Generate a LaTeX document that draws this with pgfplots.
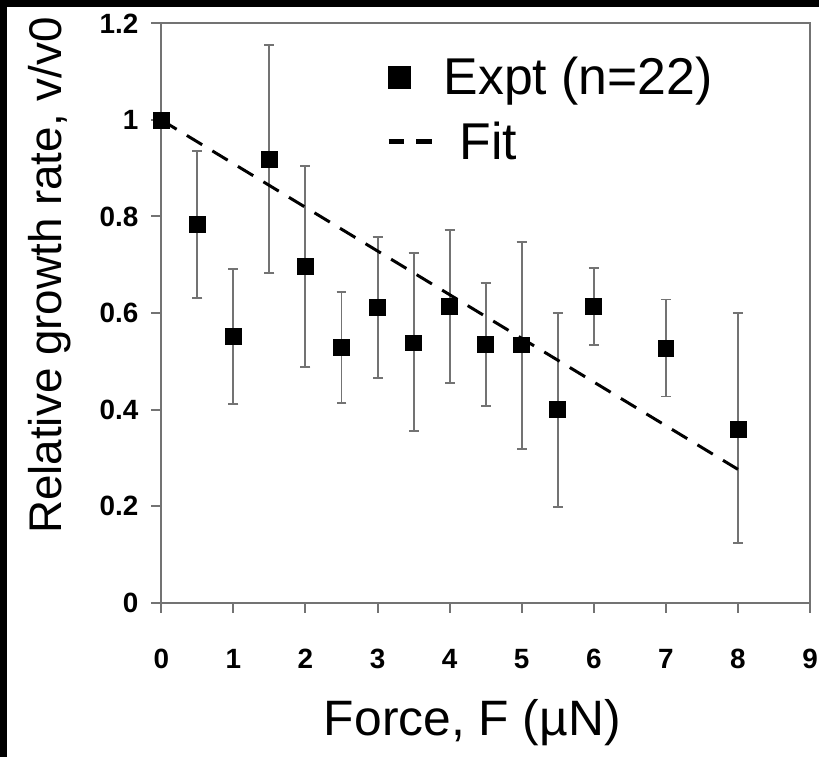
\documentclass[border=0pt]{standalone}
\usepackage{pgfplots}
\pgfplotsset{compat=1.18}
\usepackage{pgfplotstable}
\usepackage{fontspec}
\setmainfont{Liberation Sans}

% force (uN), rate, error up, error down
\pgfplotstableread{
x    y      ep     em
0    1.000  0.000  0.000
0.5  0.783  0.153  0.152
1    0.551  0.140  0.139
1.5  0.919  0.236  0.237
2    0.697  0.208  0.208
2.5  0.529  0.114  0.116
3    0.611  0.146  0.145
3.5  0.538  0.187  0.183
4    0.613  0.159  0.158
4.5  0.535  0.128  0.127
5    0.534  0.213  0.215
5.5  0.400  0.200  0.201
6    0.613  0.080  0.080
7    0.527  0.101  0.100
8    0.359  0.241  0.235
}\expt

\begin{document}
\begin{tikzpicture}[x=0.5bp, y=0.5bp]
\fill[white] (-161.5,-154.7) rectangle (658.5,603.3);
\fill[black] (-161.5,-154.7) rectangle (-154.5,603.3);
\fill[black] (-161.5,596.3) rectangle (658.5,603.3);
\begin{axis}[
  scale only axis,
  width=324.75bp, height=289.9bp,
  xmin=0, xmax=9, ymin=0, ymax=1.2,
  xtick={0,1,...,9},
  ytick={0,0.2,0.4,0.6,0.8,1,1.2},
  xtick pos=left, ytick pos=left,
  tick align=outside,
  major tick length=5pt,
  axis line style={draw=black!55, line width=1pt},
  tick style={draw=black!55, line width=1pt},
  /pgf/number format/assume math mode=true,
  ticklabel style={font=\fontsize{14}{14}\selectfont\bfseries},
  xticklabel style={yshift=-15pt},
  yticklabel style={xshift=-3pt},
  xlabel={Force, F (\textmu N)},
  ylabel={Relative growth rate, v/v0},
  xlabel style={font=\fontsize{25}{25}\selectfont, at={(axis description cs:0.4795,-0.2289)}, anchor=base},
  ylabel style={font=\fontsize{23}{23}\selectfont, at={(axis description cs:-0.1532,0.5645)}, anchor=base},
  clip=false,
  legend style={at={(axis description cs:0.3366,0.956)}, anchor=north west,
    draw=none, fill=none, font=\fontsize{26}{26}\selectfont,
    row sep=8pt, cells={anchor=west}},
]
\addplot[black, only marks, mark=square*, mark size=4pt,
  legend image code/.code={\fill[black] (0pt,-5.5pt) rectangle (11pt,5.5pt); \path (25pt,0pt);},
  error bars/.cd, y dir=both, y explicit,
  error mark=-,
  error bar style={draw=black!55, line width=1pt},
  error mark options={draw=black!55, line width=1pt, mark size=2.5pt, rotate=90}]
  table[x=x, y=y, y error plus=ep, y error minus=em] {\expt};
\addlegendentry{Expt (n=22)}
\addplot[black, line width=1.5pt, dash pattern=on 9pt off 6pt,
  legend image code/.code={\draw[black, line width=2.5pt, dash pattern=on 8pt off 6pt] (0pt,0pt) -- (22pt,0pt); \path (25pt,0pt);}]
  coordinates {(0,1.0) (8,0.276)};
\addlegendentry{\hspace{8pt}Fit}
\end{axis}
\pgfresetboundingbox
\path[use as bounding box] (-161.5,-154.7) rectangle (658.5,603.3);
\end{tikzpicture}
\end{document}
